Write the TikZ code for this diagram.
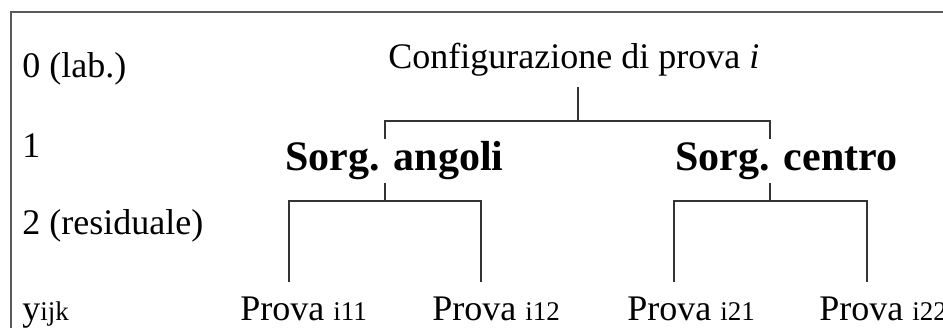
\documentclass[tikz,border=0pt]{standalone}
\usepackage{fontspec}
\setmainfont{Liberation Serif}
\usetikzlibrary{positioning}

\tikzset{
	testo/.style={anchor=base west, inner sep=0pt, font=\fontsize{18}{22}\selectfont},
	gruppo/.style={anchor=base west, inner sep=0pt, font=\fontsize{21}{25}\selectfont\bfseries},
	ramo/.style={line width=0.55pt, color=black!80},
	cornice/.style={line width=0.8pt, color=black!65}
}
\newcommand{\piccolo}[1]{{\fontsize{13.5}{16}\selectfont #1}}

\begin{document}
\begin{tikzpicture}[x=0.5pt, y=-0.5pt]
			%%%%% START %%%%%
			\useasboundingbox (0,0) rectangle (943,327);
			
			% frame
			\draw[cornice] (11,335) -- (11,12) -- (950,12);
			
			% level labels
			\node[testo] (lev0) at (22,77) {0 (lab.)};
			\node[testo] (lev1) at (22,157) {1};
			\node[testo] (lev2) at (22,234) {2 (residuale)};
			\node[testo] (lev3) at (22,320) {y\piccolo{ijk}};
			
			% tree
			\node[testo] (cfg) at (388,68) {Configurazione di prova \textit{i}};
			\node[gruppo] (sang) at (285,170) {Sorg. angoli};
			\node[gruppo] (scen) at (675,170) {Sorg. centro};
			
			\node[testo] (p11) at (240,320) {Prova \piccolo{i11}};
			\node[testo] (p12) at (432,320) {Prova \piccolo{i12}};
			\node[testo] (p21) at (627,320) {Prova \piccolo{i21}};
			\node[testo] (p22) at (819,320) {Prova \piccolo{i22}};
			
			\coordinate (r0) at (578,87);
			\coordinate (r1) at (578,121);
			\coordinate (a0) at (385,121);
			\coordinate (a1) at (385,139);
			\coordinate (a2) at (385,183);
			\coordinate (a3) at (385,201);
			\coordinate (b0) at (770,121);
			\coordinate (b1) at (770,139);
			\coordinate (b2) at (770,183);
			\coordinate (b3) at (770,201);
			
			% feet above the Prova labels
			\coordinate (c11) at (289,282);
			\coordinate (c12) at (481,282);
			\coordinate (c21) at (674,282);
			\coordinate (c22) at (867,282);
			
			\draw[ramo] (r0) -- (r1);
			\draw[ramo] (a1) -- (a0) -- (b0) -- (b1);
			
			\draw[ramo] (a2) -- (a3);
			\draw[ramo] (c11) -- (c11 |- a3) -- (c12 |- a3) -- (c12);
			
			\draw[ramo] (b2) -- (b3);
			\draw[ramo] (c21) -- (c21 |- b3) -- (c22 |- b3) -- (c22);
			
			%%%%% END %%%%%
		\end{tikzpicture}
\end{document}
